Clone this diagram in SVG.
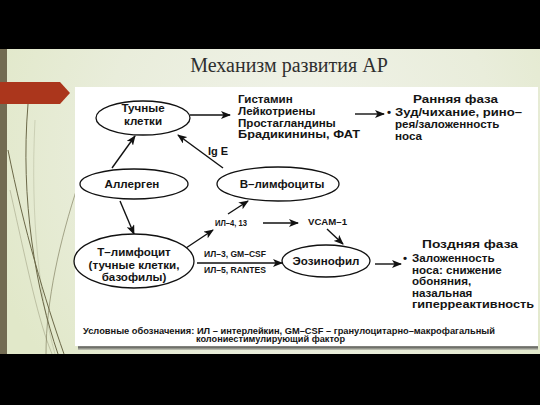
<svg xmlns="http://www.w3.org/2000/svg" width="540" height="405" viewBox="0 0 540 405">
<defs>
<radialGradient id="bg" cx="300" cy="150" r="330" gradientUnits="userSpaceOnUse">
<stop offset="0" stop-color="#f1f3ea"/>
<stop offset="0.6" stop-color="#e9eddb"/>
<stop offset="1" stop-color="#e1e8c9"/>
</radialGradient>
<linearGradient id="shadow" x1="0" y1="0" x2="0" y2="1">
<stop offset="0" stop-color="#9a9a96"/>
<stop offset="0.5" stop-color="#6f706a"/>
<stop offset="1" stop-color="#c9ccbd"/>
</linearGradient>
<marker id="ah" viewBox="0 0 10 8" refX="9" refY="4" markerWidth="10" markerHeight="8" markerUnits="userSpaceOnUse" orient="auto">
<path d="M0,0 L10,4 L0,8 L2.5,4 Z" fill="#111"/>
</marker>
</defs>
<style>
.node ellipse{fill:#fff;stroke:#111;stroke-width:1.3}
.t{font-family:"Liberation Sans",Arial,sans-serif;font-weight:bold;fill:#141414}
.n{font-size:11.6px;text-anchor:middle}
.b{font-size:11.6px}
.s{font-size:8.3px}
.f{font-size:8.2px}
.con line{stroke:#111;stroke-width:1.4;marker-end:url(#ah)}
.deco path{fill:none;stroke:#6b6848}
</style>
<rect x="0" y="0" width="540" height="405" fill="#000"/>
<rect x="0" y="49" width="540" height="305" fill="url(#bg)"/>
<g class="deco">
<path d="M28,104 C20,200 36,290 58,354" stroke-width="1"/>
<path d="M8,150 C24,230 45,300 64,354" stroke-width="1"/>
<path d="M78,185 C60,240 46,300 46,354" stroke-width="0.8" opacity="0.7"/>
<path d="M10,190 C28,270 38,320 52,354" stroke-width="0.8" opacity="0.4"/>
<path d="M35,120 C30,220 40,300 55,354" stroke-width="0.7" opacity="0.3"/>
</g>
<rect x="0" y="49" width="7" height="305" fill="#726b52"/>
<path d="M0,82 L60,82 L70,93 L60,104 L0,104 Z" fill="#ab361c"/>
<text x="289" y="72" font-family="'Liberation Serif','Times New Roman',serif" font-size="20" fill="#2f2f2f" text-anchor="middle">Механизм развития АР</text>
<rect x="78" y="345" width="460" height="5" fill="url(#shadow)"/>
<rect x="75" y="87" width="463" height="259" fill="#fff"/>

<g class="con">
<line x1="190" y1="115" x2="230" y2="115"/>
<line x1="355" y1="114" x2="384" y2="114"/>
<line x1="112" y1="168" x2="135" y2="136"/>
<line x1="223" y1="168" x2="178" y2="135"/>
<line x1="120" y1="201" x2="134" y2="234"/>
<line x1="186" y1="248" x2="213" y2="230"/>
<line x1="228" y1="214" x2="248" y2="201"/>
<line x1="263" y1="223" x2="298" y2="223"/>
<line x1="327" y1="229" x2="343" y2="244"/>
<line x1="197" y1="263" x2="282" y2="263"/>
<line x1="375" y1="264" x2="401" y2="264"/>
</g>

<g id="mast" class="node">
<ellipse cx="143" cy="118" rx="47" ry="17"/>
<text class="t n" x="143" y="112">Тучные</text>
<text class="t n" x="143" y="124.5">клетки</text>
</g>
<g id="allergen" class="node">
<ellipse cx="134" cy="184" rx="54" ry="15"/>
<text class="t n" x="132" y="188">Аллерген</text>
</g>
<g id="blymph" class="node">
<ellipse cx="278" cy="184" rx="61" ry="17"/>
<text class="t n" x="282" y="188">В–лимфоциты</text>
</g>
<g id="tlymph" class="node">
<ellipse cx="134" cy="261" rx="60" ry="27"/>
<text class="t n" x="134" y="256">Т–лимфоцит</text>
<text class="t n" x="134" y="268.5">(тучные клетки,</text>
<text class="t n" x="134" y="281">базофилы)</text>
</g>
<g id="eos" class="node">
<ellipse cx="326" cy="261" rx="44" ry="16"/>
<text class="t n" x="326" y="265">Эозинофил</text>
</g>

<g id="mediators">
<text class="t b" x="238" y="103">Гистамин</text>
<text class="t b" x="238" y="115">Лейкотриены</text>
<text class="t b" x="238" y="126.5">Простагландины</text>
<text class="t b" x="238" y="138" textLength="122" lengthAdjust="spacingAndGlyphs">Брадикинины, ФАТ</text>
</g>
<g id="early">
<text class="t b" x="413" y="103" textLength="85" lengthAdjust="spacingAndGlyphs">Ранняя фаза</text>
<text class="t b" x="387" y="116">•</text>
<text class="t b" x="395" y="116" textLength="127" lengthAdjust="spacingAndGlyphs">Зуд/чихание, рино–</text>
<text class="t b" x="395" y="128">рея/заложенность</text>
<text class="t b" x="395" y="139.5">носа</text>
</g>
<g id="late">
<text class="t b" x="422" y="248" textLength="96" lengthAdjust="spacingAndGlyphs">Поздняя фаза</text>
<text class="t b" x="403" y="262">•</text>
<text class="t b" x="412" y="262">Заложенность</text>
<text class="t b" x="412" y="273.5">носа: снижение</text>
<text class="t b" x="412" y="285">обоняния,</text>
<text class="t b" x="412" y="296.5">назальная</text>
<text class="t b" x="412" y="308" textLength="122" lengthAdjust="spacingAndGlyphs">гиперреактивность</text>
</g>
<g id="labels">
<text class="t" x="208" y="155" font-size="11">Ig E</text>
<text class="t s" x="215" y="226" textLength="32" lengthAdjust="spacingAndGlyphs">ИЛ–4, 13</text>
<text class="t s" x="308" y="225" textLength="39" lengthAdjust="spacingAndGlyphs">VCAM–1</text>
<text class="t s" x="204" y="257" textLength="62" lengthAdjust="spacingAndGlyphs">ИЛ–3, GM–CSF</text>
<text class="t s" x="204" y="273" textLength="62" lengthAdjust="spacingAndGlyphs">ИЛ–5, RANTES</text>
</g>
<g id="legend">
<text class="t f" x="83" y="334" textLength="412" lengthAdjust="spacingAndGlyphs">Условные обозначения: ИЛ – интерлейкин, GM–CSF – гранулоцитарно–макрофагальный</text>
<text class="t f" x="196" y="342" textLength="149" lengthAdjust="spacingAndGlyphs">колониестимулирующий фактор</text>
</g>
</svg>
